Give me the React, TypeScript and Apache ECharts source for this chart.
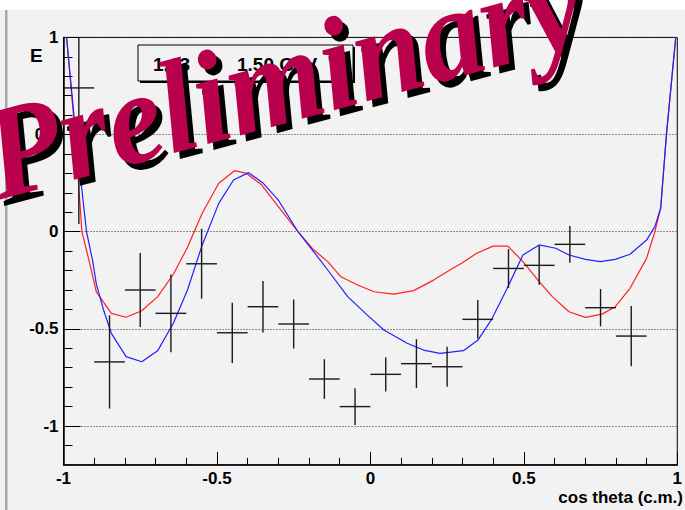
import React, { useEffect, useRef } from "react";
import * as echarts from "echarts";

// Measured beam asymmetry E in bins of cos(theta) (c.m.)
const binCenters = [-0.95, -0.85, -0.75, -0.65, -0.55, -0.45, -0.35, -0.25, -0.15, -0.05, 0.05, 0.15, 0.25, 0.35, 0.45, 0.55, 0.65, 0.75, 0.85];
const asymValues = [0.74, -0.67, -0.3, -0.42, -0.165, -0.52, -0.386, -0.475, -0.758, -0.9, -0.734, -0.679, -0.695, -0.451, -0.189, -0.173, -0.065, -0.391, -0.537];
const asymErrors = [0.7, 0.24, 0.19, 0.2, 0.18, 0.155, 0.133, 0.126, 0.102, 0.095, 0.088, 0.126, 0.103, 0.1, 0.1, 0.1, 0.095, 0.096, 0.155];
const binHalfWidth = 0.05;

// Model curves
const redX = [-0.99, -0.962, -0.94, -0.915, -0.893, -0.844, -0.796, -0.745, -0.693, -0.642, -0.596, -0.548, -0.494, -0.443, -0.403, -0.354, -0.3, -0.236, -0.187, -0.139, -0.096, -0.042, 0.012, 0.076, 0.141, 0.206, 0.259, 0.3, 0.346, 0.4, 0.448, 0.497, 0.55, 0.593, 0.647, 0.701, 0.755, 0.798, 0.846, 0.9, 0.927, 0.946, 0.965, 0.995];
const redY = [1.0, 0.5, 0.0, -0.16, -0.31, -0.42, -0.44, -0.407, -0.334, -0.219, -0.08, 0.095, 0.249, 0.314, 0.3, 0.24, 0.129, 0.0, -0.09, -0.154, -0.232, -0.274, -0.309, -0.321, -0.303, -0.249, -0.197, -0.16, -0.111, -0.074, -0.074, -0.154, -0.257, -0.334, -0.412, -0.441, -0.424, -0.386, -0.291, -0.137, 0.0, 0.122, 0.506, 1.0];
const blueX = [-0.99, -0.96, -0.925, -0.905, -0.893, -0.87, -0.844, -0.796, -0.745, -0.693, -0.642, -0.596, -0.548, -0.494, -0.446, -0.397, -0.349, -0.3, -0.236, -0.187, -0.139, -0.074, -0.01, 0.044, 0.12, 0.173, 0.227, 0.303, 0.351, 0.394, 0.443, 0.497, 0.55, 0.604, 0.647, 0.701, 0.749, 0.798, 0.846, 0.9, 0.927, 0.946, 0.965, 0.995];
const blueY = [1.0, 0.5, 0.0, -0.15, -0.27, -0.4, -0.523, -0.643, -0.669, -0.612, -0.471, -0.3, -0.068, 0.146, 0.266, 0.304, 0.249, 0.163, 0.0, -0.098, -0.197, -0.334, -0.429, -0.506, -0.574, -0.609, -0.626, -0.612, -0.557, -0.454, -0.3, -0.12, -0.068, -0.085, -0.12, -0.142, -0.154, -0.142, -0.116, -0.043, 0.026, 0.122, 0.506, 1.0];

// Axis ticks
const majorTicks = [-1, -0.5, 0, 0.5, 1];
const xMinorTicks = [-0.9, -0.8, -0.7, -0.6, -0.4, -0.3, -0.2, -0.1, 0.1, 0.2, 0.3, 0.4, 0.6, 0.7, 0.8, 0.9];
const yMinorTicks = [-1.1, -0.9, -0.8, -0.7, -0.6, -0.4, -0.3, -0.2, -0.1, 0.1, 0.2, 0.3, 0.4, 0.6, 0.7, 0.8, 0.9];

const X_MIN = -1;
const X_MAX = 1;
const Y_MIN = -1.2;
const Y_MAX = 1;

const rangeLabel = ["1.43", "~", "1.50 GeV"];
const xTitle = "cos theta (c.m.)";
const yTitle = "E";
const watermark = "Preliminary";

const SANS = '"Liberation Sans", Arial, Helvetica, sans-serif';
const SERIF = '"Liberation Serif", "Times New Roman", Times, serif';

export default function App() {
  const ref = useRef<HTMLDivElement>(null);

  useEffect(() => {
    if (!ref.current) return;
    const chart = echarts.init(ref.current, undefined, { renderer: "svg" });

    const toPairs = (xs: number[], ys: number[]) => xs.map((x, i) => [x, ys[i]]);
    const points = binCenters.map((x, i) => [x, asymValues[i], asymErrors[i]]);

    const tickLabel = { fontSize: 17, fontWeight: "bold" as const, fontFamily: SANS, color: "#000" };
    const rot = (15 * Math.PI) / 180;
    const wmX = 283;
    const wmY = 78;
    const wmFont = `italic bold 132px ${SERIF}`;
    const wmSquash = 0.94;

    chart.setOption({
      animation: false,
      backgroundColor: "#f2f2f2",
      grid: {
        left: 63.5,
        top: 37.4,
        width: 619,
        height: 427.5,
        show: true,
        borderColor: "#000",
        borderWidth: 1,
        backgroundColor: "transparent",
      },
      xAxis: [
        {
          type: "value",
          min: X_MIN,
          max: X_MAX,
          position: "bottom",
          axisLine: { show: true, onZero: false, lineStyle: { color: "#000", width: 1.5 } },
          axisTick: { show: true, inside: true, length: 13, customValues: majorTicks, lineStyle: { color: "#000" } },
          axisLabel: { show: true, customValues: majorTicks, margin: 5, ...tickLabel },
          splitLine: { show: false },
        },
        {
          type: "value",
          min: X_MIN,
          max: X_MAX,
          position: "bottom",
          axisLine: { show: false, onZero: false },
          axisTick: { show: true, inside: true, length: 7, customValues: xMinorTicks, lineStyle: { color: "#000" } },
          axisLabel: { show: false },
          splitLine: { show: false },
        },
      ],
      yAxis: [
        {
          type: "value",
          min: Y_MIN,
          max: Y_MAX,
          position: "left",
          axisLine: { show: true, onZero: false, lineStyle: { color: "#000", width: 1.5 } },
          axisTick: { show: true, inside: true, length: 17, customValues: majorTicks, lineStyle: { color: "#000" } },
          axisLabel: { show: true, customValues: majorTicks, margin: 5, ...tickLabel },
          splitLine: { show: true, lineStyle: { color: "#222", width: 1, type: [1, 2] } },
        },
        {
          type: "value",
          min: Y_MIN,
          max: Y_MAX,
          position: "left",
          axisLine: { show: false, onZero: false },
          axisTick: { show: true, inside: true, length: 9, customValues: yMinorTicks, lineStyle: { color: "#000" } },
          axisLabel: { show: false },
          splitLine: { show: false },
        },
      ],
      series: [
        {
          type: "line",
          data: toPairs(redX, redY),
          showSymbol: false,
          clip: true,
          lineStyle: { color: "#ff2020", width: 1.2 },
          z: 3,
        },
        {
          type: "line",
          data: toPairs(blueX, blueY),
          showSymbol: false,
          clip: true,
          lineStyle: { color: "#2020ff", width: 1.2 },
          z: 3,
        },
        {
          type: "custom",
          data: points,
          encode: { x: 0, y: 1 },
          z: 4,
          renderItem: (_params: any, api: any) => {
            const x = api.value(0);
            const y = api.value(1);
            const e = api.value(2);
            const yTop = Math.min(y + e, Y_MAX);
            const yBot = Math.max(y - e, Y_MIN);
            const pL = api.coord([x - binHalfWidth, y]);
            const pR = api.coord([x + binHalfWidth, y]);
            const pT = api.coord([x, yTop]);
            const pB = api.coord([x, yBot]);
            const style = { stroke: "#1a1a1a", lineWidth: 1.4 };
            return {
              type: "group",
              children: [
                { type: "line", shape: { x1: pL[0], y1: pL[1], x2: pR[0], y2: pR[1] }, style },
                { type: "line", shape: { x1: pT[0], y1: pT[1], x2: pB[0], y2: pB[1] }, style },
              ],
            };
          },
        },
      ],
      graphic: [
        { type: "rect", shape: { x: 0, y: 0, width: 685, height: 10 }, style: { fill: "#ffffff" }, z: 1 },
        { type: "rect", shape: { x: 5, y: 10, width: 2.5, height: 500 }, style: { fill: "#a8a8a8" }, z: 1 },
        {
          type: "text",
          x: 30,
          y: 55,
          style: { text: yTitle, font: `bold 19px ${SANS}`, fill: "#000", textVerticalAlign: "middle" },
          z: 5,
        },
        {
          type: "text",
          x: 683,
          y: 497,
          style: { text: xTitle, font: `bold 17px ${SANS}`, fill: "#000", textAlign: "right", textVerticalAlign: "middle" },
          z: 5,
        },
        // range box with shadow
        { type: "rect", shape: { x: 140, y: 47, width: 215, height: 36 }, style: { fill: "#000" }, z: 6 },
        { type: "rect", shape: { x: 138, y: 45, width: 215, height: 36 }, style: { fill: "#f2f2f2", stroke: "#000", lineWidth: 1 }, z: 7 },
        {
          type: "text",
          x: 153,
          y: 64,
          style: { text: rangeLabel[0], font: `bold 19px ${SANS}`, fill: "#000", textVerticalAlign: "middle" },
          z: 8,
        },
        {
          type: "text",
          x: 210,
          y: 64,
          style: { text: rangeLabel[1], font: `bold 19px ${SANS}`, fill: "#000", textVerticalAlign: "middle" },
          z: 8,
        },
        {
          type: "text",
          x: 237,
          y: 64,
          style: { text: rangeLabel[2], font: `bold 19px ${SANS}`, fill: "#000", textVerticalAlign: "middle" },
          z: 8,
        },
        // watermark: shadow then face
        {
          type: "text",
          x: wmX + 6,
          y: wmY + 6,
          rotation: rot,
          scaleX: wmSquash,
          style: { text: watermark, font: wmFont, fill: "#000", textAlign: "center", textVerticalAlign: "middle" },
          z: 20,
        },
        {
          type: "text",
          x: wmX,
          y: wmY,
          rotation: rot,
          scaleX: wmSquash,
          style: { text: watermark, font: wmFont, fill: "#b8004c", textAlign: "center", textVerticalAlign: "middle" },
          z: 21,
        },
      ],
    });

    return () => chart.dispose();
  }, []);

  return <div ref={ref} style={{ position: "absolute", left: 0, top: 0, width: 685, height: 510 }} />;
}
